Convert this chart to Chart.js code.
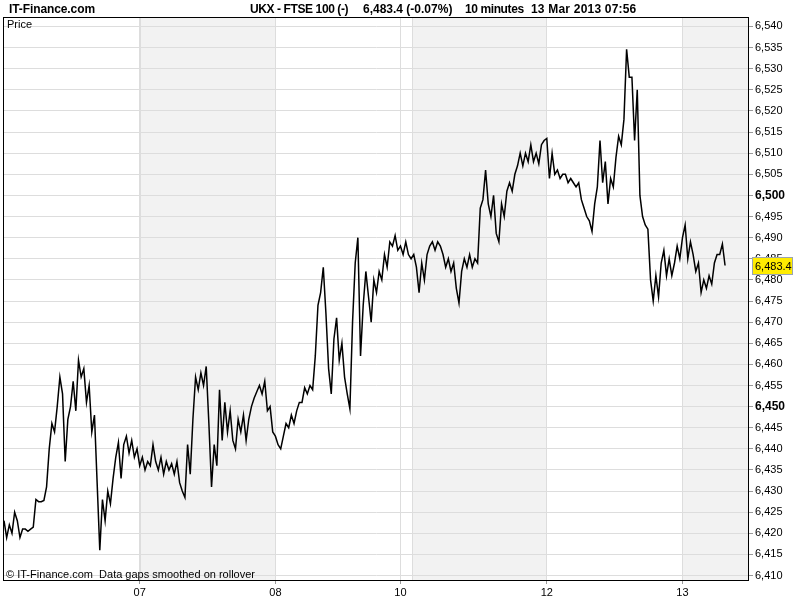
<!DOCTYPE html>
<html>
<head>
<meta charset="utf-8">
<script src="https://cdn.jsdelivr.net/npm/chart.js@4.4.0/dist/chart.umd.min.js"></script>
<style>
  html, body { margin: 0; padding: 0; background: #fff; }
  #wrap { position: relative; width: 800px; height: 600px; overflow: hidden; font-family: "Liberation Sans", Arial, sans-serif; }
  #chart { position: absolute; left: 0; top: 0; }
  .hdr { position: absolute; top: 2px; font-size: 12px; line-height: 14px; font-weight: bold; color: #000; white-space: nowrap; }
  .note { position: absolute; font-size: 11px; line-height: 13px; color: #000; white-space: nowrap; }
</style>
</head>
<body>
<div id="wrap">
  <canvas id="chart" width="800" height="600"></canvas>
  <div class="hdr" style="left:9px;letter-spacing:-0.1px">IT-Finance.com</div>
  <div class="hdr" style="left:250px;letter-spacing:-0.4px">UKX - FTSE 100 (-)</div>
  <div class="hdr" style="left:363px">6,483.4 (-0.07%)</div>
  <div class="hdr" style="left:465px;letter-spacing:-0.4px">10 minutes</div>
  <div class="hdr" style="left:531px;letter-spacing:0.2px">13 Mar 2013 07:56</div>
  <div class="note" style="left:7px;top:18px">Price</div>
  <div class="note" style="left:6px;top:568px">© IT-Finance.com&nbsp; Data gaps smoothed on rollover</div>
</div>
<script>
// 10 minute bars, 6 Mar 2013 (partial) .. 13 Mar 2013 07:56
const prices = [
  6423, 6419, 6422, 6420, 6425, 6423, 6419, 6421, 6421, 6420.5,
  6421, 6421.5, 6428, 6427.5, 6427.5, 6427.8, 6431, 6440, 6446, 6444,
  6450, 6457, 6453, 6437, 6447, 6450, 6456, 6449, 6461, 6457,
  6459, 6451, 6455, 6444, 6448, 6432, 6416, 6428, 6423, 6430,
  6427, 6433, 6438, 6441.5, 6433, 6441, 6443, 6439, 6442, 6438,
  6440, 6436, 6438, 6435, 6437, 6436, 6441, 6437, 6435, 6438,
  6434, 6437, 6435, 6436.5, 6434, 6437, 6432, 6430, 6428.5, 6441,
  6434, 6447, 6457, 6454, 6458, 6455, 6459.5, 6446, 6431, 6441,
  6436, 6454, 6442, 6451, 6444, 6449, 6442, 6440, 6447, 6444,
  6448, 6442, 6447, 6450, 6452, 6453.5, 6455, 6453, 6456, 6449,
  6450, 6444, 6443, 6441, 6440, 6443, 6446, 6445, 6448, 6446,
  6449, 6451, 6451, 6454.5, 6453, 6455, 6454, 6462, 6474, 6477,
  6483, 6472, 6459, 6453, 6466, 6471, 6461, 6465, 6457, 6453,
  6449.5, 6470, 6484, 6490, 6462, 6474, 6482, 6476, 6470, 6480,
  6477, 6482, 6480, 6486, 6483, 6489, 6488, 6490.5, 6487, 6488,
  6486, 6489, 6486, 6485, 6486, 6483, 6477, 6484, 6480, 6486,
  6488, 6489, 6487, 6489, 6488, 6486, 6483, 6485, 6482, 6484,
  6478, 6474.5, 6482, 6485, 6483, 6486, 6483, 6485, 6484, 6497,
  6499, 6506, 6498, 6495, 6500, 6491, 6489, 6498, 6495, 6501,
  6503, 6501, 6505, 6507, 6510, 6507, 6510, 6508, 6512, 6508,
  6510, 6507.5, 6512, 6513, 6513.5, 6504, 6510, 6505, 6506, 6504,
  6505, 6505, 6503, 6504, 6503, 6502, 6503, 6499, 6497, 6495,
  6494, 6491.5, 6498, 6502, 6513, 6503, 6508, 6498, 6504, 6502,
  6509, 6514, 6512, 6518, 6534.6, 6528, 6528, 6513, 6525, 6500,
  6495, 6493, 6492, 6480, 6475, 6481, 6476, 6484, 6487, 6481,
  6485, 6481, 6484, 6488, 6485, 6490, 6493, 6485, 6489, 6486,
  6482, 6484, 6477, 6480, 6478, 6481, 6479, 6484, 6486, 6486,
  6488.5, 6483.4
];

const xTickPos = [51, 102, 149, 204, 255];
const xTickLabels = ['07', '08', '10', '12', '13'];
const shadedDays = [[51, 102], [153.4, 204], [255, 280]];

const yTicks = [6410, 6415, 6420, 6425, 6430, 6435, 6440, 6445, 6450, 6455, 6460, 6465, 6470,
  6475, 6480, 6485, 6490, 6495, 6500, 6505, 6510, 6515, 6520, 6525, 6530, 6535, 6540];
const boldTicks = [6450, 6500];

const FONT = 'Liberation Sans';

const bandsPlugin = {
  id: 'bands',
  beforeDraw(chart) {
    const { ctx, chartArea: a, scales } = chart;
    ctx.save();
    ctx.fillStyle = '#fff';
    ctx.fillRect(0, 0, chart.width, chart.height);
    shadedDays.forEach(([s, e]) => {
      const x1 = scales.x.getPixelForValue(s);
      const x2 = Math.min(scales.x.getPixelForValue(e), a.right);
      ctx.fillStyle = '#f2f2f2';
      ctx.fillRect(x1, a.top, x2 - x1, a.bottom - a.top);
      ctx.strokeStyle = '#dddddd';
      ctx.lineWidth = 1;
      ctx.beginPath();
      ctx.moveTo(Math.round(x1) + 0.5, a.top);
      ctx.lineTo(Math.round(x1) + 0.5, a.bottom);
      ctx.stroke();
    });
    ctx.restore();
  }
};

const framePlugin = {
  id: 'frame',
  afterDraw(chart) {
    const { ctx, chartArea: a, scales } = chart;
    ctx.save();
    ctx.strokeStyle = '#000';
    ctx.lineWidth = 1;
    ctx.strokeRect(Math.round(a.left) - 0.5, Math.round(a.top) - 0.5, Math.round(a.right - a.left), Math.round(a.bottom - a.top) + 1);

    // last price badge
    const last = prices[prices.length - 1];
    const y = Math.round(scales.y.getPixelForValue(last));
    ctx.fillStyle = '#ffec00';
    ctx.fillRect(753, y - 8, 39, 16);
    ctx.strokeStyle = '#9aa4b0';
    ctx.strokeRect(752.5, y - 8.5, 40, 17);
    ctx.fillStyle = '#000';
    ctx.font = '11px "' + FONT + '"';
    ctx.textBaseline = 'middle';
    ctx.textAlign = 'left';
    ctx.fillText(last.toLocaleString('en-US', { minimumFractionDigits: 1 }), 755, y + 1);
    ctx.restore();
  }
};

new Chart(document.getElementById('chart'), {
  type: 'line',
  data: {
    datasets: [{
      data: prices.map((p, i) => ({ x: i, y: p })),
      borderColor: '#000',
      borderWidth: 1.5,
      pointRadius: 0,
      tension: 0,
      fill: false
    }]
  },
  options: {
    responsive: false,
    animation: false,
    devicePixelRatio: 1,
    layout: { padding: { top: 18, left: 4, right: 0, bottom: 0 } },
    plugins: { legend: { display: false }, tooltip: { enabled: false }, title: { display: false } },
    scales: {
      x: {
        type: 'linear',
        min: 0,
        max: 280,
        afterBuildTicks: s => { s.ticks = xTickPos.map(v => ({ value: v })); },
        afterFit: s => { s.height = 20; },
        grid: { color: '#dddddd', tickColor: '#999', tickLength: 4 },
        border: { display: false },
        ticks: {
          autoSkip: false, maxRotation: 0, padding: 2, color: '#000',
          font: { family: FONT, size: 11 },
          callback: (v, i) => xTickLabels[i]
        }
      },
      y: {
        position: 'right',
        min: 6408.95,
        max: 6542.0,
        afterBuildTicks: s => { s.ticks = yTicks.map(v => ({ value: v })); },
        afterFit: s => { s.width = 51; },
        grid: { color: '#dddddd', tickColor: '#999', tickLength: 4 },
        border: { display: false },
        ticks: {
          autoSkip: false, padding: 2, color: '#000',
          font: c => {
            const b = c.tick && boldTicks.includes(c.tick.value);
            return { family: FONT, size: b ? 12 : 11, weight: b ? 'bold' : 'normal' };
          },
          callback: v => v.toLocaleString('en-US')
        }
      }
    }
  },
  plugins: [bandsPlugin, framePlugin]
});
</script>
</body>
</html>
